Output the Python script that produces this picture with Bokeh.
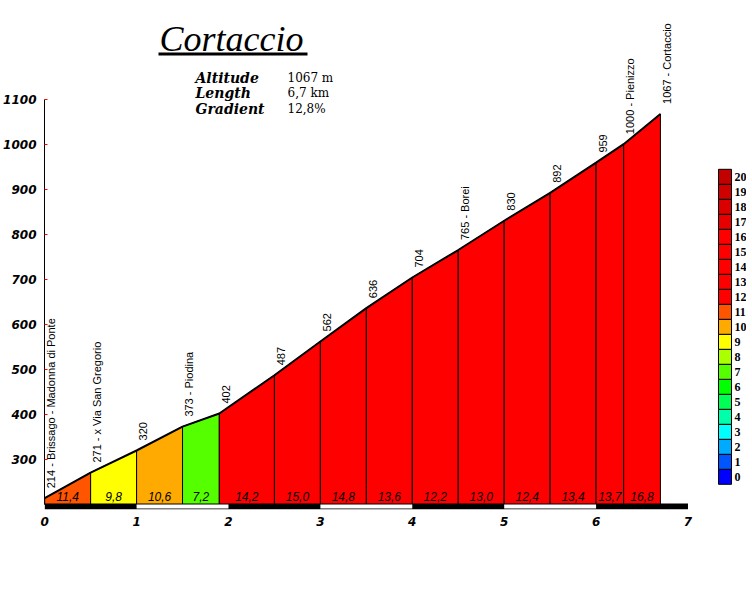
import math
from bokeh.plotting import figure
from bokeh.models import Range1d, LinearAxis, FixedTicker
from bokeh.core.properties import value
from bokeh.embed import file_html
from bokeh.resources import INLINE

# ---------------- data ----------------
dist_km = [0, 0.5, 1.0, 1.5, 1.9, 2.5, 3.0, 3.5, 4.0, 4.5, 5.0, 5.5, 6.0, 6.3, 6.7]
altitude_m = [214, 271, 320, 373, 402, 487, 562, 636, 704, 765, 830, 892, 959, 1000, 1067]
point_names = ["Brissago - Madonna di Ponte", "x Via San Gregorio", "", "Piodina", "", "",
               "", "", "", "Borei", "", "", "", "Pienizzo", "Cortaccio"]
gradients = [11.4, 9.8, 10.6, 7.2, 14.2, 15.0, 14.8, 13.6, 12.2, 13.0, 12.4, 13.4, 13.7, 16.8]
y_ticks = [300, 400, 500, 600, 700, 800, 900, 1000, 1100]
x_ticks = [0, 1, 2, 3, 4, 5, 6, 7]
legend_levels = list(range(21))
legend_colors = ["#0000FF", "#0055FF", "#00AAFF", "#00FFFF", "#00FFAA", "#00FF55", "#00FF00",
                 "#55FF00", "#AAFF00", "#FFFF00", "#FFAA00", "#FF5500", "#FF0000", "#FF0000",
                 "#FF0000", "#FF0000", "#FF0000", "#E60000", "#DA0000", "#CE0000", "#C20000"]
title_text = "Cortaccio"
info_keys = ["Altitude", "Length", "Gradient"]
info_values = ["1067 m", "6,7 km", "12,8%"]
base_alt = 200

# ---------------- layout constants (reference-pixel frame) ----------------
OFF = 1                      # page offset of the figure
W, H = 746, 585
LEFT = 44
FRAME_BOTTOM_REF = 510
FW = W - LEFT
FH = FRAME_BOTTOM_REF - OFF
BOTTOM = H - FH
PX_PER_KM = 91.9
PX_PER_M = 0.4505
y_lo = 300 - (FRAME_BOTTOM_REF - 460) / PX_PER_M
y_hi = y_lo + FH / PX_PER_M
x_lo = -0.002

p = figure(width=W, height=H,
           x_range=Range1d(x_lo, x_lo + FW / PX_PER_KM), y_range=Range1d(y_lo, y_hi),
           output_backend="svg", toolbar_location=None,
           x_axis_location=None, y_axis_location=None,
           min_border_left=LEFT, min_border_bottom=BOTTOM, min_border_top=0, min_border_right=0)
p.extra_x_ranges = {"px_x": Range1d(LEFT + OFF, LEFT + OFF + FW)}
p.extra_y_ranges = {"px_y": Range1d(FRAME_BOTTOM_REF, FRAME_BOTTOM_REF - FH)}
p.grid.visible = False
p.outline_line_color = None
p.background_fill_color = "white"
p.border_fill_color = "white"

# axes
yaxis = LinearAxis(ticker=FixedTicker(ticks=y_ticks), bounds=(base_alt, y_ticks[-1]))
yaxis.axis_line_color = "black"
yaxis.axis_line_width = 1
yaxis.major_tick_line_color = "#FF0000"
yaxis.major_tick_in = 3
yaxis.major_tick_out = 0
yaxis.minor_tick_line_color = None
yaxis.major_label_standoff = 8
yaxis.major_label_text_font = "DejaVu Sans"
yaxis.major_label_text_font_style = "bold italic"
yaxis.major_label_text_font_size = "12px"
yaxis.major_label_text_color = "black"
p.add_layout(yaxis, "left")

xaxis = LinearAxis(ticker=FixedTicker(ticks=x_ticks))
xaxis.axis_line_color = None
xaxis.major_tick_line_color = None
xaxis.major_tick_in = 0
xaxis.major_tick_out = 0
xaxis.minor_tick_line_color = None
xaxis.major_label_standoff = 7
xaxis.major_label_text_font = "DejaVu Sans"
xaxis.major_label_text_font_style = "bold italic"
xaxis.major_label_text_font_size = "12px"
xaxis.major_label_text_color = "black"
p.add_layout(xaxis, "below")

# profile segments
n = len(gradients)
seg_xs = [[dist_km[i], dist_km[i], dist_km[i + 1], dist_km[i + 1]] for i in range(n)]
seg_ys = [[base_alt, altitude_m[i], altitude_m[i + 1], base_alt] for i in range(n)]
seg_colors = [legend_colors[min(20, int(math.floor(g)))] for g in gradients]
p.patches(seg_xs, seg_ys, fill_color=seg_colors, line_color="black", line_width=1)
p.line(dist_km, altitude_m, line_color="black", line_width=2)

# km strip
p.quad(left=[x_ticks[0]], right=[x_ticks[-1]], top=[504], bottom=[510],
       fill_color="black", line_color=None, y_range_name="px_y")
odd = [k for k in x_ticks[:-1] if k % 2 == 1]
p.quad(left=odd, right=[k + 1 for k in odd], top=[505] * len(odd), bottom=[509] * len(odd),
       fill_color="white", line_color=None, y_range_name="px_y")

# gradient labels
mids = [(dist_km[i] + dist_km[i + 1]) / 2 for i in range(n)]
glabels = [f"{g:.1f}".replace(".", ",") for g in gradients]
p.text(x=mids, y=[497] * n, text=glabels, y_range_name="px_y",
       text_font=value("Liberation Sans"), text_font_style="italic", text_font_size="12px",
       text_align="center", text_baseline="middle", text_color="black")

# point labels
plabels = [f"{a} - {nm}" if nm else f"{a}" for a, nm in zip(altitude_m, point_names)]
p.text(x=dist_km, y=altitude_m, text=plabels, angle=math.pi / 2,
       x_offset=6.5, y_offset=-10,
       text_font=value("Liberation Sans"), text_font_size="11px",
       text_align="left", text_baseline="middle", text_color="black")

# title
p.text(x=[160], y=[39.7], text=[title_text], x_range_name="px_x", y_range_name="px_y",
       text_font=value("Liberation Serif"), text_font_style="italic", text_font_size="36px",
       text_align="left", text_baseline="middle", text_color="black")
p.line(x=[159, 308], y=[54.5, 54.5], x_range_name="px_x", y_range_name="px_y",
       line_color="black", line_width=3)

# info block
iy = [78.6 + 15.3 * i for i in range(len(info_keys))]
p.text(x=[196] * len(info_keys), y=iy, text=info_keys, x_range_name="px_x", y_range_name="px_y",
       text_font=value("DejaVu Serif"), text_font_style="bold italic", text_font_size="14px",
       text_align="left", text_baseline="middle", text_color="black")
p.text(x=[288] * len(info_values), y=iy, text=info_values, x_range_name="px_x", y_range_name="px_y",
       text_font=value("DejaVu Serif"), text_font_size="12px",
       text_align="left", text_baseline="middle", text_color="black")

# gradient colour legend
lb = [484.8 - 15 * i for i in legend_levels]
lt = [484.8 - 15 * (i + 1) for i in legend_levels]
p.quad(left=[719] * 21, right=[732] * 21, top=lt, bottom=lb, fill_color=legend_colors,
       line_color="black", line_width=1, x_range_name="px_x", y_range_name="px_y")
p.text(x=[735] * 21, y=[(a + b) / 2 for a, b in zip(lt, lb)], text=[str(v) for v in legend_levels],
       x_range_name="px_x", y_range_name="px_y",
       text_font=value("Liberation Serif"), text_font_style="bold", text_font_size="12px",
       text_align="left", text_baseline="middle", text_color="black")

open("out.html", "w").write(file_html(p, INLINE))
